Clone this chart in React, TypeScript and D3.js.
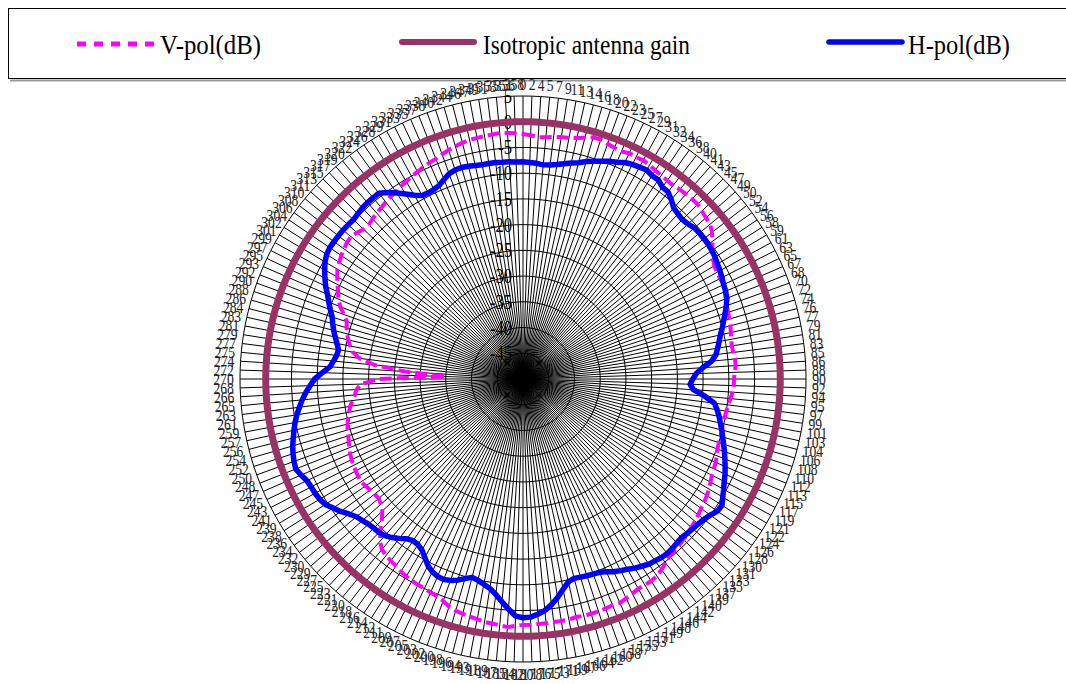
import React from "react";
import * as d3 from "d3";

// Category (azimuth) labels, degrees
const angleLabels: number[] = [
  0, 2, 4, 5, 7, 9, 11, 13, 14, 16, 18, 20, 22, 23, 25, 27, 29, 31, 32, 34,
  36, 38, 40, 41, 43, 45, 47, 49, 50, 52, 54, 56, 58, 59, 61, 63, 65, 67, 68, 70,
  72, 74, 76, 77, 79, 81, 83, 85, 86, 88, 90, 92, 94, 95, 97, 99, 101, 103, 104, 106,
  108, 110, 112, 113, 115, 117, 119, 121, 122, 124, 126, 128, 130, 131, 133, 135, 137, 139, 140, 142,
  144, 146, 148, 149, 151, 153, 155, 157, 158, 160, 162, 164, 166, 167, 169, 171, 173, 175, 176, 178,
  180, 182, 184, 185, 187, 189, 191, 193, 194, 196, 198, 200, 202, 203, 205, 207, 209, 211, 212, 214,
  216, 218, 220, 221, 223, 225, 227, 229, 230, 232, 234, 236, 238, 239, 241, 243, 245, 247, 248, 250,
  252, 254, 256, 257, 259, 261, 263, 265, 266, 268, 270, 272, 274, 275, 277, 279, 281, 283, 284, 286,
  288, 290, 292, 293, 295, 297, 299, 301, 302, 304, 306, 308, 310, 311, 313, 315, 317, 319, 320, 322,
  324, 326, 328, 329, 331, 333, 335, 337, 338, 340, 342, 344, 346, 347, 349, 351, 353, 355, 356, 358,
];

// V-pol gain (dB)
const vPol: number[] = [
  -2.4, -2.6, -2.9, -2.8, -2.6, -2.4, -2.3, -2.0, -1.6, -1.1,
  -1.1, -1.4, -1.7, -1.8, -1.5, -1.6, -1.5, -1.7, -2.0, -2.2,
  -2.3, -2.4, -2.2, -2.1, -2.0, -2.0, -2.3, -2.6, -2.8, -3.5,
  -4.5, -5.5, -6.3, -6.8, -7.0, -7.0, -6.9, -7.2, -7.6, -7.9,
  -8.1, -8.2, -8.4, -8.6, -8.8, -8.9, -8.8, -8.6, -8.6, -8.8,
  -9.0, -9.0, -9.2, -9.5, -9.8, -10.0, -10.1, -10.2, -10.1, -10.0,
  -10.0, -9.8, -9.5, -9.2, -9.0, -8.8, -8.4, -8.0, -7.7, -7.4,
  -7.2, -6.9, -6.6, -6.4, -6.1, -5.9, -5.7, -5.5, -5.3, -4.8,
  -4.2, -3.7, -3.5, -3.5, -3.5, -3.2, -2.9, -2.6, -2.7, -2.6,
  -2.5, -2.5, -2.5, -2.6, -2.4, -2.4, -2.4, -2.3, -2.3, -2.2,
  -2.2, -2.0, -1.7, -1.9, -2.1, -2.2, -2.5, -2.7, -2.9, -3.1,
  -3.5, -4.2, -4.6, -4.8, -5.0, -5.1, -5.2, -5.4, -5.7, -6.1,
  -6.3, -6.6, -7.0, -8.0, -9.5, -11.2, -12.5, -13.2, -13.6, -13.5,
  -13.3, -13.0, -12.7, -12.8, -12.9, -13.0, -13.2, -13.4, -13.7, -14.0,
  -14.3, -14.5, -14.8, -15.2, -15.6, -16.0, -16.6, -17.2, -17.6, -18.5,
  -22.0, -35.0, -27.0, -21.0, -18.0, -16.5, -15.8, -15.2, -14.7, -14.3,
  -14.0, -13.0, -11.8, -10.9, -10.3, -9.5, -8.8, -8.1, -7.7, -7.3,
  -7.0, -6.7, -6.6, -7.0, -7.5, -7.6, -7.3, -7.0, -6.8, -6.5,
  -6.2, -6.0, -5.7, -5.4, -5.1, -4.8, -4.5, -4.2, -4.0, -3.6,
  -3.2, -2.9, -2.6, -2.4, -2.3, -2.2, -2.1, -2.0, -2.1, -2.2,
];

// H-pol gain (dB)
const hPol: number[] = [
  -7.8, -7.9, -8.0, -8.2, -8.1, -7.8, -7.4, -7.0, -6.6, -6.0,
  -5.5, -5.0, -4.5, -4.1, -3.5, -3.2, -3.0, -2.8, -3.2, -3.2,
  -3.9, -4.0, -4.8, -5.7, -6.0, -6.2, -6.0, -5.6, -5.5, -5.5,
  -5.5, -5.6, -5.8, -6.1, -6.3, -6.6, -6.9, -7.1, -7.4, -8.0,
  -8.7, -9.4, -10.0, -10.7, -11.2, -11.7, -12.2, -13.2, -15.0, -16.3,
  -17.0, -17.5, -16.8, -14.5, -12.5, -11.8, -11.2, -10.7, -10.1, -9.6,
  -9.0, -8.4, -7.8, -7.2, -6.6, -6.1, -5.5, -4.9, -4.2, -4.3,
  -5.0, -5.5, -5.8, -6.0, -6.2, -6.4, -6.3, -6.1, -6.0, -6.1,
  -6.3, -6.5, -6.9, -7.3, -7.8, -8.2, -8.6, -9.2, -9.6, -9.7,
  -9.8, -9.9, -10.0, -9.6, -8.4, -7.0, -5.8, -4.8, -4.2, -3.7,
  -3.6, -3.9, -5.2, -6.5, -7.8, -8.8, -9.4, -9.9, -10.2, -9.6,
  -8.9, -8.4, -8.1, -8.2, -8.6, -9.3, -10.4, -11.4, -11.9, -12.0,
  -11.6, -10.8, -10.0, -9.4, -9.1, -9.0, -8.8, -8.4, -8.0, -7.2,
  -6.2, -5.4, -4.5, -4.1, -3.9, -3.8, -3.6, -3.0, -2.5, -2.7,
  -3.0, -3.4, -3.9, -4.4, -4.9, -5.5, -6.2, -6.9, -7.7, -8.6,
  -9.5, -11.0, -12.4, -13.0, -13.5, -13.7, -13.2, -12.6, -12.0, -11.5,
  -11.0, -10.2, -9.4, -8.6, -7.6, -6.8, -6.0, -5.3, -4.8, -4.6,
  -4.6, -4.6, -4.6, -4.7, -4.8, -4.6, -4.4, -4.3, -4.3, -4.3,
  -5.2, -6.3, -7.4, -8.5, -9.3, -9.4, -9.3, -9.0, -8.3, -7.6,
  -7.3, -7.2, -7.3, -7.5, -7.6, -7.6, -7.6, -7.7, -7.7, -7.8,
];

// Isotropic reference: 0 dB at every azimuth
const isotropicGain: number[] = angleLabels.map(() => 0);

// Radial axis ticks (dB)
const radialTicks: number[] = [5, 0, -5, -10, -15, -20, -25, -30, -35, -40, -45];
const radialMin = -50;
const radialMax = 5;

const seriesNames = ["V-pol(dB)", "Isotropic antenna gain", "H-pol(dB)"];

const W = 1066;
const H = 684;
const cx = 523;
const cy = 379;
const R = 283;
const FONT = "'Liberation Serif', 'DejaVu Serif', serif";

export default function App() {
  const n = angleLabels.length;
  const angle = d3.scaleLinear().domain([0, n]).range([0, 2 * Math.PI]);
  const r = d3.scaleLinear().domain([radialMin, radialMax]).range([0, R]);

  const radial = d3
    .lineRadial<number>()
    .angle((_, i) => angle(i))
    .radius((v) => r(v))
    .curve(d3.curveLinearClosed);

  const ringValues = d3.range(radialMin + 5, radialMax + 1, 5);

  const labelR = R + 6;

  return (
    <svg
      width={W}
      height={H}
      viewBox={`0 0 ${W} ${H}`}
      style={{ position: "absolute", left: 0, top: 0, background: "#fff" }}
    >
      <rect x={0} y={0} width={W} height={H} fill="#fff" />

      {/* legend */}
      <g>
        <line x1={10} y1={80.5} x2={W} y2={80.5} stroke="#9a9a9a" strokeWidth={2} />
        <rect x={8.5} y={8.5} width={W + 10} height={70} fill="#fff" stroke="#000" strokeWidth={1} />
        <line x1={77} y1={44} x2={156} y2={44} stroke="#ff00ff" strokeWidth={5} strokeDasharray="9 8" />
        <text x={160} y={54} fontFamily={FONT} fontSize={28} textLength={101} lengthAdjust="spacingAndGlyphs">
          {seriesNames[0]}
        </text>
        <line x1={402} y1={42} x2={474} y2={42} stroke="#993366" strokeWidth={6} strokeLinecap="round" />
        <text x={483} y={54} fontFamily={FONT} fontSize={28} textLength={207} lengthAdjust="spacingAndGlyphs">
          {seriesNames[1]}
        </text>
        <line x1={829} y1={42} x2={902} y2={42} stroke="#0000ff" strokeWidth={5.5} strokeLinecap="round" />
        <text x={908} y={54} fontFamily={FONT} fontSize={28} textLength={102} lengthAdjust="spacingAndGlyphs">
          {seriesNames[2]}
        </text>
      </g>

      <g transform={`translate(${cx},${cy})`}>
        {/* value axis labels */}
        {radialTicks.map((t) => (
          <g key={`rt${t}`} transform={`translate(-11,${-r(t) + 7}) scale(0.75,1)`}>
            <text textAnchor="end" fontFamily={FONT} fontSize={22} fill="#000">
              {t}
            </text>
          </g>
        ))}

        {/* spokes */}
        {angleLabels.map((_, i) => {
          const a = angle(i);
          return (
            <line
              key={`sp${i}`}
              x1={0}
              y1={0}
              x2={R * Math.sin(a)}
              y2={-R * Math.cos(a)}
              stroke="#000"
              strokeWidth={1}
            />
          );
        })}

        {/* rings */}
        {ringValues.map((v) => (
          <path
            key={`ring${v}`}
            d={radial(angleLabels.map(() => v)) || ""}
            fill="none"
            stroke="#000"
            strokeWidth={1}
          />
        ))}

        {/* category labels */}
        {angleLabels.map((lab, i) => {
          const a = angle(i);
          const s = Math.sin(a);
          const c = Math.cos(a);
          const w = String(lab).length * 7;
          const h = 12;
          const x = (labelR + (w / 2) * Math.abs(s)) * s;
          const y = -(labelR + (h / 2) * Math.abs(c)) * c;
          return (
            <g key={`cl${i}`} transform={`translate(${x},${y}) scale(0.8,1)`}>
              <text textAnchor="middle" dy="0.35em" fontFamily={FONT} fontSize={17} fill="#222">
                {lab}
              </text>
            </g>
          );
        })}

        {/* series */}
        <path d={radial(vPol) || ""} fill="none" stroke="#ff00ff" strokeWidth={4} strokeDasharray="12 5" />
        <path d={radial(isotropicGain) || ""} fill="none" stroke="#993366" strokeWidth={7} strokeLinejoin="round" />
        <path d={radial(hPol) || ""} fill="none" stroke="#0000ff" strokeWidth={5.5} strokeLinejoin="round" />
      </g>
    </svg>
  );
}
